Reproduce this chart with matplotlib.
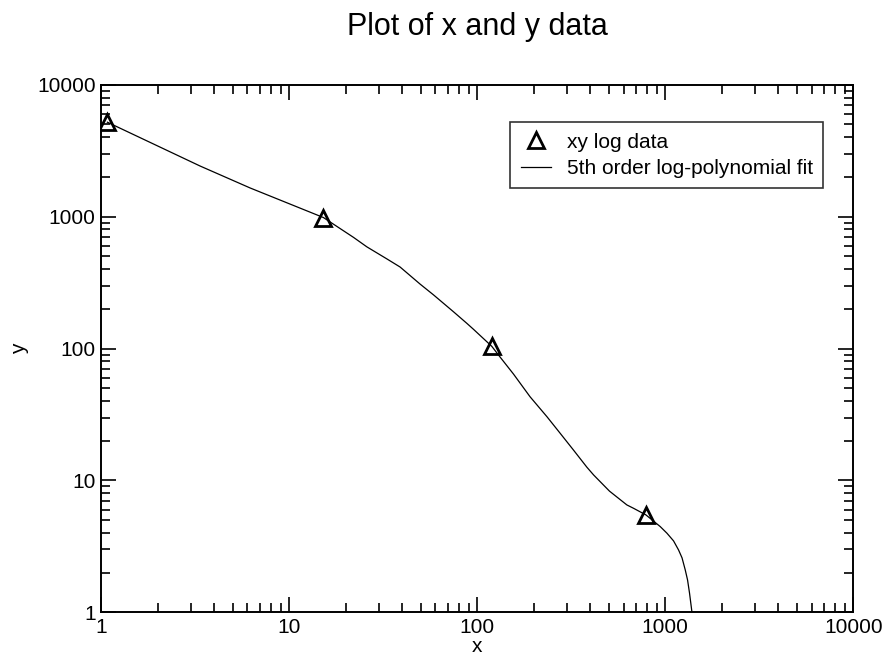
import matplotlib
matplotlib.use('Agg')
import matplotlib.pyplot as plt
from matplotlib import ticker

plt.rcParams['font.family'] = ['Liberation Sans', 'DejaVu Sans']

# Data points
x_data = [1.08, 15.2, 119.5, 790]
y_data = [5200, 985, 104, 5.5]

# Fitted curve
x_fit = [1.08, 3.36, 6.2, 15.2, 22.0, 25.9, 33.1, 38.9, 49.7, 58.6,
         74.8, 88.2, 95.5, 119.5, 132.5, 156, 191, 235, 276, 325,
         383, 416, 505, 625, 678, 789, 940, 1021, 1107, 1177,
         1228, 1277, 1314, 1346, 1387, 1400]
y_fit = [5200, 2420, 1650, 985, 696, 590, 478, 415, 308, 255,
         190, 155, 140, 104, 86, 64, 43.1, 30.4, 22.8, 17.0,
         12.6, 11.0, 8.3, 6.52, 6.15, 5.48, 4.47, 3.98, 3.48, 2.97,
         2.59, 2.10, 1.76, 1.40, 1.0, 0.85]

fig = plt.figure(figsize=(8.87, 6.57), dpi=100)
ax = fig.add_axes([0.114, 0.068, 0.848, 0.803])

ax.plot(x_fit, y_fit, color='black', lw=0.9,
        label='5th order log-polynomial fit', zorder=2)
ax.plot(x_data, y_data, linestyle='none', marker='^', markersize=11,
        markerfacecolor='none', markeredgecolor='black', markeredgewidth=2,
        label='xy log data', zorder=3)

ax.set_xscale('log')
ax.set_yscale('log')
ax.set_xlim(1, 10000)
ax.set_ylim(1, 10000)

fmt = ticker.FuncFormatter(lambda v, p: f'{v:g}')
for axis in (ax.xaxis, ax.yaxis):
    axis.set_major_locator(ticker.LogLocator(base=10, numticks=10))
    axis.set_minor_locator(ticker.LogLocator(base=10, subs=range(2, 10), numticks=10))
    axis.set_major_formatter(fmt)
    axis.set_minor_formatter(ticker.NullFormatter())

ax.tick_params(which='both', direction='in', top=True, right=True,
               labelsize=15, width=1.2, pad=4)
ax.tick_params(which='major', length=11)
ax.tick_params(which='minor', length=6.5)
for s in ax.spines.values():
    s.set_linewidth(1.4)

ax.set_xlabel('x', fontsize=15, labelpad=0)
ax.set_ylabel('y', fontsize=15, labelpad=6)
ax.set_title('Plot of x and y data', fontsize=22, pad=36)

handles, labels = ax.get_legend_handles_labels()
leg = ax.legend(handles[::-1], labels[::-1], loc='upper right',
                bbox_to_anchor=(0.96, 0.929), borderaxespad=0,
                fontsize=15, frameon=True, fancybox=False,
                handlelength=1.45, handletextpad=0.75, borderpad=0.5,
                labelspacing=0.35)
leg.get_frame().set_edgecolor('black')
leg.get_frame().set_linewidth(1.2)

fig.savefig('out.png', dpi=100)
